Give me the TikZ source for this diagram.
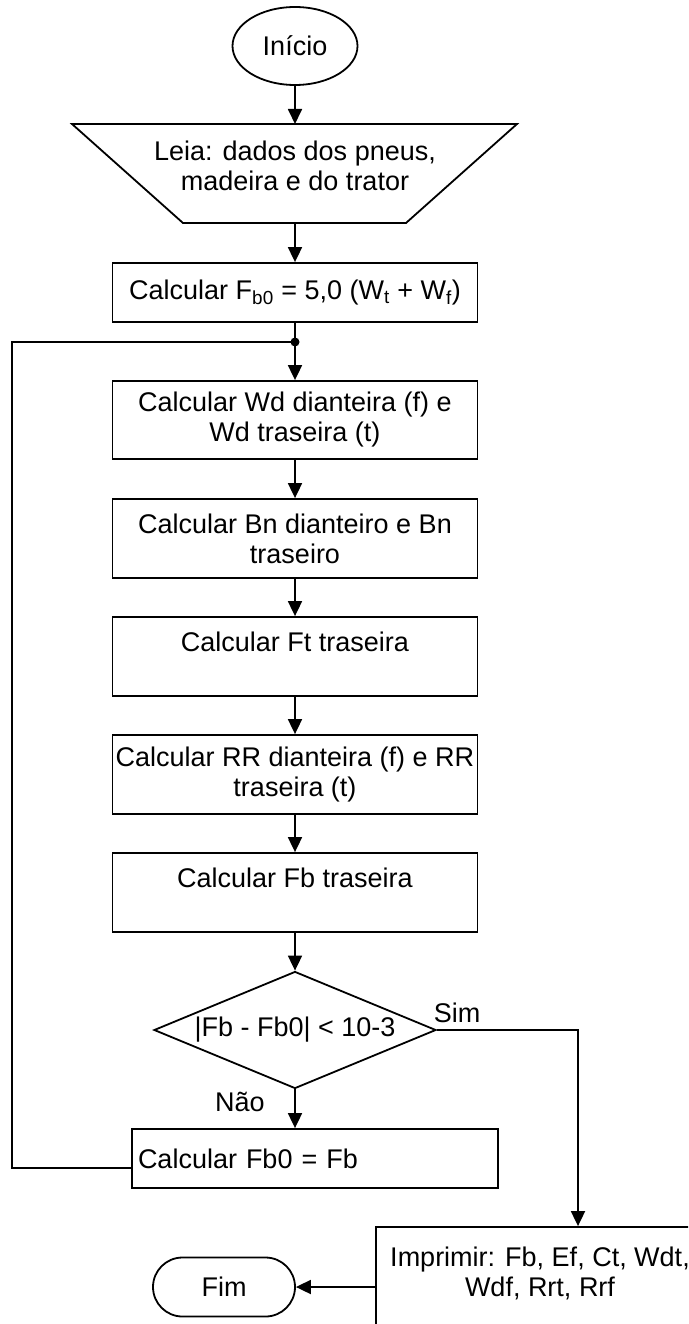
\documentclass[tikz,border=0pt]{standalone}
\usepackage{fontspec}
\setmainfont{Liberation Sans}
\usetikzlibrary{arrows.meta,shapes.geometric,calc}
\begin{document}
\begin{tikzpicture}[x=1pt,y=-1pt,
  every node/.style={font=\fontsize{27}{30}\selectfont},
  ln/.style={line width=1.8pt},
  arr/.style={ln,-{Triangle[width=14pt,length=15pt]}},
  procbox/.style={draw,ln,minimum width=365pt,inner sep=0pt,align=center},
]
\useasboundingbox (0,0) rectangle (688,1324);
\clip (0,0) rectangle (688,1324);

\node[ellipse,draw,ln,minimum width=125pt,minimum height=78pt,inner sep=0pt] (ini) at (295,46) {\raisebox{-4pt}{Início}};

\coordinate (leiaN) at (295,124);
\coordinate (leiaS) at (295,223);
\draw[ln] (72,124) -- (517,124) -- (406,223) -- (183,223) -- cycle;
\node[align=center] (leia) at (295,166) {Leia: dados dos pneus,\\madeira e do trator};

\node[procbox,minimum height=59pt] (b1) at (295,292.5) {Calcular F\textsubscript{b0} = 5,0 (W\textsubscript{t} + W\textsubscript{f})};
\coordinate (j) at (295,342);
\node[procbox,minimum height=78pt] (b2) at (295,420) {Calcular Wd dianteira (f) e\\Wd traseira (t)};
\node[procbox,minimum height=79pt] (b3) at (295,538.5) {Calcular Bn dianteiro e Bn\\traseiro};
\node[procbox,minimum height=79pt] (b4) at (295,656.5) {Calcular Ft traseira\\\mbox{}};
\node[procbox,minimum height=79pt] (b5) at (295,774.5) {Calcular RR dianteira (f) e RR\\traseira (t)};
\node[procbox,minimum height=79pt] (b6) at (295,892.5) {Calcular Fb traseira\\\mbox{}};

\node[diamond,draw,ln,aspect=2.41,minimum width=282pt,minimum height=117pt,inner sep=0pt] (dec) at (295,1030) {|Fb - Fb0| < 10-3};
\node (sim) at (457,1013) {Sim};
\node (nao) at (240,1102) {Não};

\node[draw,ln,minimum width=366pt,minimum height=59pt,text width=354pt,align=left,inner xsep=6pt,inner ysep=0pt] (fb0) at (315,1158.5) {Calcular Fb0 = Fb};

\node[draw,ln,minimum width=328pt,minimum height=120pt,inner sep=0pt,align=center] (imp) at (540,1287) {Imprimir: Fb, Ef, Ct, Wdt,\\Wdf, Rrt, Rrf\\\mbox{}};

\node[draw,ln,rounded corners=29.5pt,minimum width=142pt,minimum height=59pt,inner sep=0pt] (fim) at (224,1287) {Fim};

\coordinate (loopc) at (12,342);
\coordinate (simc) at (578,1030);

\draw[arr] (ini) -- (leiaN);
\draw[arr] (leiaS) -- (b1);
\draw[ln] (b1) -- (j);
\fill (j) circle (4.5pt);
\draw[arr] (j) -- (b2);
\draw[arr] (b2) -- (b3);
\draw[arr] (b3) -- (b4);
\draw[arr] (b4) -- (b5);
\draw[arr] (b5) -- (b6);
\draw[arr] (b6) -- (dec);
\draw[arr] (dec.south) -- (dec.south |- fb0.north);
\draw[ln] ([yshift=-9.5pt]fb0.west) -| (loopc) -- (j);
\draw[arr] (dec.east) -- (simc) -- (simc |- imp.north);
\draw[arr] (imp.west) -- (fim.east);
\end{tikzpicture}
\end{document}
